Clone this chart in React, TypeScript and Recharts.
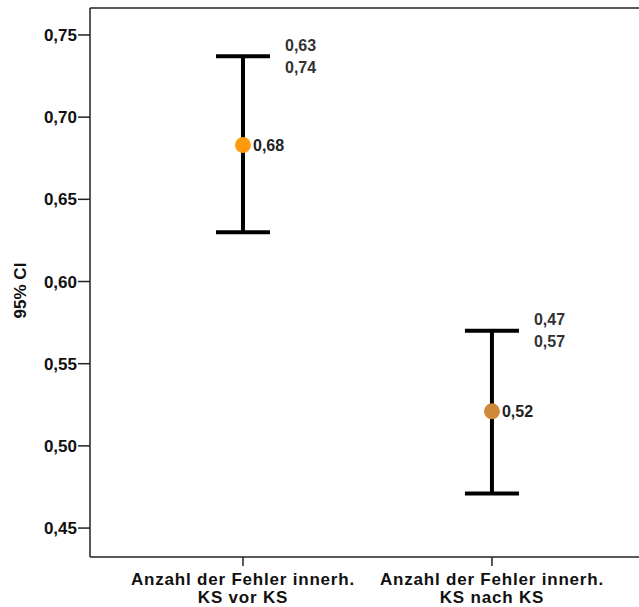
import {
  ComposedChart,
  Scatter,
  ErrorBar,
  XAxis,
  YAxis,
  ZAxis,
  Cell,
  LabelList,
  ReferenceLine,
} from "recharts";

const categories = [
  ["Anzahl der Fehler innerh.", "KS vor KS"],
  ["Anzahl der Fehler innerh.", "KS nach KS"],
];
const means = [0.683, 0.521];
const lowers = [0.63, 0.471];
const uppers = [0.737, 0.57];
const yTicks = [0.45, 0.5, 0.55, 0.6, 0.65, 0.7, 0.75];

const dotColors = ["#FF9A0E", "#D0883A"];
const Y_DOMAIN: [number, number] = [0.4324, 0.7664];
const X_DOMAIN: [number, number] = [0.3855, 2.675];
const FONT = "'Liberation Sans', Arial, sans-serif";

const comma = (v: number) => v.toFixed(2).replace(".", ",");

const points = means.map((m, i) => ({
  x: i + 1,
  mean: m,
  err: [m - lowers[i], uppers[i] - m],
}));

const caps = uppers.map((u, i) => ({ x: i + 1, y: u, low: lowers[i], high: u }));

function CategoryTick(props: any) {
  const { x, y, payload } = props;
  const lines = categories[payload.value - 1] ?? [];
  return (
    <text
      x={x}
      y={y}
      textAnchor="middle"
      fontFamily={FONT}
      fontWeight="bold"
      fontSize={17}
      letterSpacing={0.8}
      fill="#111"
    >
      {lines.map((l, i) => (
        <tspan key={i} x={x} dy={i === 0 ? "0.71em" : 18}>
          {l}
        </tspan>
      ))}
    </text>
  );
}

function AxisTitle(props: any) {
  const { viewBox } = props;
  const cy = viewBox.y + viewBox.height / 2 + 8;
  return (
    <text
      x={20}
      y={cy}
      transform={`rotate(-90, 20, ${cy})`}
      textAnchor="middle"
      dominantBaseline="central"
      fontFamily={FONT}
      fontWeight="bold"
      fontSize={17}
      fill="#111"
    >
      95% CI
    </text>
  );
}

// two-line label beside the upper cap: lower bound above, upper bound below
function CapLabel(props: any) {
  const { x, y, width, height, index } = props;
  const cx = x + width / 2;
  const cy = y + height / 2;
  const c = caps[index];
  return (
    <g fontFamily={FONT} fontWeight="bold" fontSize={16} fill="#333">
      <text x={cx + 42} y={cy - 11} dominantBaseline="central">
        {comma(c.low)}
      </text>
      <text x={cx + 42} y={cy + 11} dominantBaseline="central">
        {comma(c.high)}
      </text>
    </g>
  );
}

export default function App() {
  return (
    <div
      style={{
        position: "absolute",
        left: 0,
        top: 0,
        width: 639,
        height: 607,
        overflow: "hidden",
        background: "#fff",
      }}
    >
      <ComposedChart
        width={660}
        height={607}
        margin={{ top: 8, right: 0, bottom: 5, left: 0 }}
      >
        <XAxis
          type="number"
          dataKey="x"
          domain={X_DOMAIN}
          ticks={[1, 2]}
          allowDataOverflow
          height={45}
          tickSize={9}
          tickMargin={7}
          tick={<CategoryTick />}
          axisLine={{ stroke: "#222", strokeWidth: 1.5 }}
          tickLine={{ stroke: "#222", strokeWidth: 1.5 }}
        />
        <YAxis
          type="number"
          domain={Y_DOMAIN}
          ticks={yTicks}
          allowDataOverflow
          width={90}
          tickSize={12}
          tickMargin={1}
          tickFormatter={comma}
          tick={{ fontFamily: FONT, fontWeight: "bold", fontSize: 17, fill: "#111" }}
          axisLine={{ stroke: "#222", strokeWidth: 1.5 }}
          tickLine={{ stroke: "#222", strokeWidth: 1.5 }}
          label={<AxisTitle />}
        />
        <ZAxis range={[201, 201]} />
        <ReferenceLine y={Y_DOMAIN[1]} stroke="#222" strokeWidth={1.5} />
        <Scatter data={points} dataKey="mean" isAnimationActive={false}>
          <ErrorBar dataKey="err" direction="y" width={27} stroke="#000" strokeWidth={4} />
          {points.map((_, i) => (
            <Cell key={i} fill={dotColors[i]} />
          ))}
          <LabelList
            dataKey="mean"
            position="right"
            offset={2}
            formatter={(v: any) => comma(Number(v))}
            style={{ fontFamily: FONT, fontWeight: "bold", fontSize: 16, fill: "#222" }}
          />
        </Scatter>
        <Scatter
          data={caps}
          dataKey="y"
          isAnimationActive={false}
          shape={() => <g />}
        >
          <LabelList dataKey="high" content={<CapLabel />} />
        </Scatter>
      </ComposedChart>
    </div>
  );
}
